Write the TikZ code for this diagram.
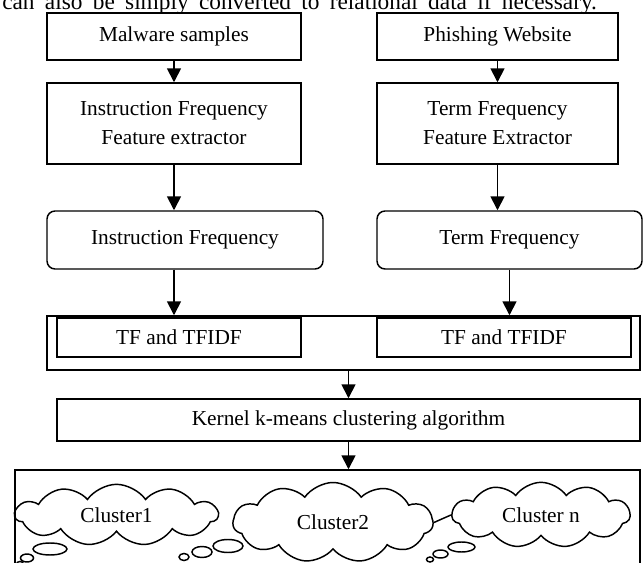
\documentclass[tikz,border=0pt]{standalone}
\usepackage{fontspec}
\setmainfont{Liberation Serif}
\usetikzlibrary{arrows.meta,shapes.symbols}
\begin{document}
\begin{tikzpicture}[x=0.75pt,y=0.75pt,yscale=-1,
		font=\fontsize{16}{21.75}\selectfont,
		blk/.style={draw,line width=1.1pt,inner sep=0pt,align=center},
		rblk/.style={blk,rounded corners=6pt},
		arr/.style={line width=1.3pt,-{Triangle[length=10.5pt,width=10.5pt]}},
		thought/.style={draw,line width=1.1pt,cloud,cloud puffs=11,cloud puff arc=110,aspect=3,inner sep=0pt},
		bubble/.style={draw,line width=1.1pt}]
	\useasboundingbox (0,0) rectangle (644,563);
	
	% Text Node (cut off line of the page above)
	\node [anchor=base west,inner sep=0pt,font=\fontsize{17.5}{21}\selectfont] (pagetext) at (2,9.5) {\makebox[446pt][s]{can also be simply converted to relational data if necessary.}};
	
	%Shape: Rectangle
	\node [blk,minimum width=190.5pt,minimum height=35.25pt] (malware) at (174,36.5) {Malware samples};
	\node [blk,minimum width=180.75pt,minimum height=35.25pt] (phishing) at (497.5,36.5) {Phishing Website};
	%Shape: Rectangle
	\node [blk,minimum width=190.5pt,minimum height=60.75pt] (instrext) at (174,123.5) {Instruction Frequency\\Feature extractor};
	\node [blk,minimum width=180.75pt,minimum height=60.75pt] (termext) at (497.5,123.5) {Term Frequency\\Feature Extractor};
	%Shape: Rounded Rect
	\node [rblk,minimum width=207pt,minimum height=43.5pt] (instrfreq) at (185,240) {Instruction Frequency};
	\node [rblk,minimum width=198.75pt,minimum height=43.5pt] (termfreq) at (509.5,240) {Term Frequency};
	%Shape: Rectangle
	\node [blk,minimum width=444.75pt,minimum height=40.5pt] (tfbox) at (343.5,343) {};
	\node [blk,minimum width=183pt,minimum height=29.25pt] (tfleft) at (179,337.5) {TF and TFIDF};
	\node [blk,minimum width=190.5pt,minimum height=29.25pt] (tfright) at (504,337.5) {TF and TFIDF};
	%Shape: Rectangle
	\node [blk,minimum width=437.25pt,minimum height=31.5pt] (kernel) at (348.5,420) {Kernel k-means clustering algorithm};
	\node [blk,minimum width=468.75pt,minimum height=97.5pt] (clusters) at (327.5,535) {};
	
	%Shape: Cloud
	\node [thought,minimum width=152pt,minimum height=46pt] (cluster1) at (116.5,515) {Cluster1};
	\node [thought,minimum width=150pt,minimum height=60pt] (cluster2) at (333,522.5) {Cluster2};
	\node [thought,minimum width=133.5pt,minimum height=49pt] (clustern) at (541,515) {Cluster n};
	%Shape: Ellipse (thought bubbles)
	\foreach \cx/\cy/\rx/\ry in {50/549/17/6, 27/558/6.5/4, 20/564/3.5/2.5,
			228/546/15/6.5, 202/552/10/5.5, 184/557/5/3.5,
			461.5/547/13.5/5, 440.5/554/7.5/4, 430/559.5/3.5/2.5}
		\draw [bubble] (\cx,\cy) ellipse [x radius=\rx, y radius=\ry];
	
	%Straight Lines
	\draw [arr] (malware) -- (instrext);
	\draw [arr] (phishing) -- (termext);
	\draw [arr] (instrext.south -| malware.south) -- (malware.south |- instrfreq.north);
	\draw [arr] (termext.south) -- (termext.south |- termfreq.north);
	\draw [arr] (malware.south |- instrfreq.south) -- (malware.south |- tfbox.north);
	\draw [arr] (termfreq.south) -- (termfreq.south |- tfbox.north);
	\draw [arr] (kernel.north |- tfbox.south) -- (kernel.north);
	\draw [arr] (kernel.south) -- (kernel.south |- clusters.north);
	\draw [line width=1.1pt] (cluster2.east) -- (clustern.west);
	
\end{tikzpicture}
\end{document}
